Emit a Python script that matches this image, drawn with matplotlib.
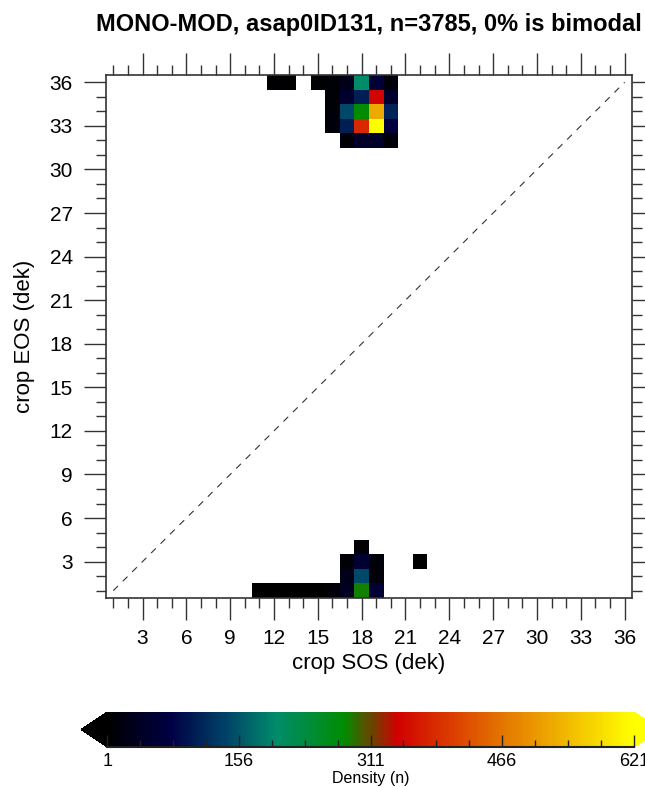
import numpy as np
import matplotlib
matplotlib.use("Agg")
import matplotlib.pyplot as plt
from matplotlib.colors import LinearSegmentedColormap, Normalize
from matplotlib.ticker import MultipleLocator, FixedLocator

plt.rcParams['font.family'] = ['Liberation Sans', 'DejaVu Sans']

# occupied (SOS, EOS) cells and their counts
sos = [12, 13, 15, 16, 17, 18, 19, 20,
       16, 17, 18, 19, 20,
       16, 17, 18, 19, 20,
       16, 17, 18, 19, 20,
       17, 18, 19, 20,
       11, 12, 13, 14, 15, 16, 17, 18, 19,
       17, 18, 19,
       17, 18, 19, 22,
       18]
eos = [36, 36, 36, 36, 36, 36, 36, 36,
       35, 35, 35, 35, 35,
       34, 34, 34, 34, 34,
       33, 33, 33, 33, 33,
       32, 32, 32, 32,
       1, 1, 1, 1, 1, 1, 1, 1, 1,
       2, 2, 2,
       3, 3, 3, 3,
       4]
counts = [4, 4, 6, 10, 30, 200, 60, 15,
          10, 50, 105, 345, 50,
          12, 145, 280, 525, 110,
          12, 105, 385, 621, 65,
          12, 45, 45, 15,
          3, 3, 3, 3, 3, 12, 35, 285, 55,
          30, 145, 12,
          10, 55, 12, 2,
          8]

title = "MONO-MOD, asap0ID131, n=3785, 0% is bimodal"
cbar_ticks = [1, 156, 311, 466, 621]

ndek = 36
grid = np.zeros((ndek, ndek))
for s, e, c in zip(sos, eos, counts):
    grid[e - 1, s - 1] = c
grid = np.ma.masked_equal(grid, 0)

cmap = LinearSegmentedColormap.from_list("dens", [
    (0.00, (0.0, 0.0, 0.0)),
    (0.12, (0.0, 0.0, 0.27)),
    (0.22, (0.0, 0.25, 0.40)),
    (0.32, (0.0, 0.55, 0.42)),
    (0.45, (0.0, 0.55, 0.0)),
    (0.55, (0.82, 0.0, 0.0)),
    (0.77, (0.90, 0.50, 0.0)),
    (1.00, (1.0, 1.0, 0.0)),
])
cmap.set_bad("white")
norm = Normalize(vmin=1, vmax=621)

fig = plt.figure(figsize=(6.45, 7.87), dpi=100)
ax = fig.add_axes([0.1643, 0.2402, 0.8155, 0.6645])

edges = np.arange(0.5, ndek + 1.0, 1.0)
mesh = ax.pcolormesh(edges, edges, grid, cmap=cmap, norm=norm)
ax.plot([1, 36], [1, 36], ls=(0, (6, 6)), color="#333333", lw=0.8)

ax.set_xlim(0.5, 36.5)
ax.set_ylim(0.5, 36.5)
for axis in (ax.xaxis, ax.yaxis):
    axis.set_major_locator(FixedLocator(np.arange(3, 37, 3)))
    axis.set_minor_locator(MultipleLocator(1))
ax.tick_params(which="both", direction="out", top=True, right=True,
               color="#333333", width=1.0, labelsize=15)
ax.tick_params(which="major", length=16)
ax.tick_params(which="minor", length=7)
ax.tick_params(axis="y", pad=8)
ax.tick_params(axis="x", pad=6)
ax.tick_params(labeltop=False, labelright=False)
for sp in ax.spines.values():
    sp.set_linewidth(1.2)
    sp.set_color("#333333")

ax.set_xlabel("crop SOS (dek)", fontsize=16, labelpad=4)
ax.set_ylabel("crop EOS (dek)", fontsize=16, labelpad=10)
ax.set_title(title, fontsize=17, fontweight="bold", pad=32)

cax = fig.add_axes([0.1256, 0.0508, 0.8977, 0.0445])
cb = fig.colorbar(mesh, cax=cax, orientation="horizontal",
                  extend="both", extendfrac=0.05)
cb.outline.set_visible(False)
cb.set_ticks(cbar_ticks)
cb.ax.xaxis.set_minor_locator(FixedLocator(np.arange(1, 622, 155 / 4)))
cb.ax.tick_params(which="both", direction="in", color="#222222",
                  labelsize=13, pad=4)
cb.ax.tick_params(which="major", length=9, width=1.0)
cb.ax.tick_params(which="minor", length=5, width=1.0)
cax.plot([0, 1], [0, 0], transform=cax.transAxes, color="#222222",
         lw=1.5, clip_on=False)
cb.set_label("Density (n)", fontsize=11.5, labelpad=1)

fig.savefig("out.png", dpi=100)
